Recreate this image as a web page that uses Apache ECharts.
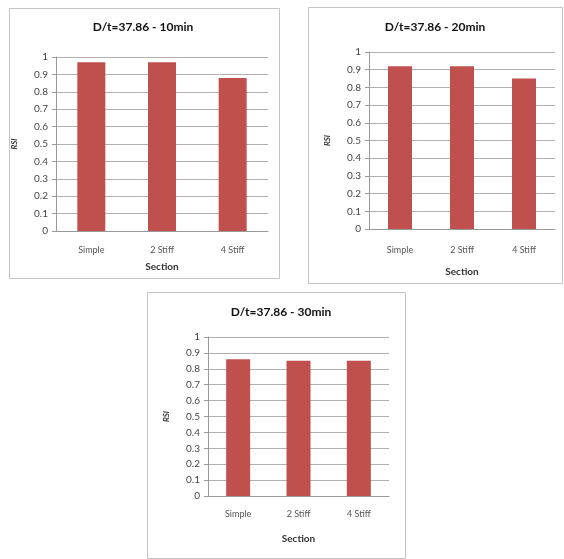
<!DOCTYPE html>
<html><head><meta charset="utf-8">
<script src="https://cdn.jsdelivr.net/npm/echarts@6/dist/echarts.min.js"></script>
<style>html,body{margin:0;padding:0;background:#fff}#c{width:564px;height:559px}</style>
</head><body><div id="c"></div>
<script>
var categories = ['Simple', '2 Stiff', '4 Stiff'];
var titles = ['D/t=37.86 - 10min', 'D/t=37.86 - 20min', 'D/t=37.86 - 30min'];
var values10 = [0.97, 0.97, 0.88];
var values20 = [0.92, 0.92, 0.85];
var values30 = [0.86, 0.85, 0.85];
var yTicks = [0, 0.1, 0.2, 0.3, 0.4, 0.5, 0.6, 0.7, 0.8, 0.9, 1];
var yName = 'RSI';
var xName = 'Section';

var seriesData = [values10, values20, values30];
var panels = [
  {box:[9,8,270,270], grid:{left:56, top:57, width:212, height:174}, titleX:143, titleY:21, barW:28, lblM:15, nameGap:31},
  {box:[308,7,254,276], grid:{left:369, top:52, width:186, height:177}, titleX:435, titleY:21, barW:24, lblM:17, nameGap:38},
  {box:[147,292,258,266], grid:{left:208, top:337, width:181, height:159}, titleX:281, titleY:306, barW:24, lblM:14, nameGap:38}
];
var font = 'Lato, "Open Sans", sans-serif';
var grids=[], xAxes=[], yAxes=[], series=[], titleArr=[], graphics=[];
panels.forEach(function(p,i){
  graphics.push({type:'rect', shape:{x:p.box[0]+0.5,y:p.box[1]+0.5,width:p.box[2],height:p.box[3]}, style:{fill:'#fff', stroke:'#c4c4c4', lineWidth:1}, z:-10});
  grids.push(p.grid);
  titleArr.push({text:titles[i], left:p.titleX, top:p.titleY, padding:0, textAlign:'center', textStyle:{fontFamily:font, fontSize:12, fontWeight:'bold', color:'#111'}});
  xAxes.push({type:'category', gridIndex:i, data:categories,
    axisLine:{lineStyle:{color:'#999'}}, axisTick:{show:false},
    axisLabel:{fontFamily:font, fontSize:9, color:'#555', margin:p.lblM},
    name:xName, nameLocation:'middle', nameGap:p.nameGap,
    nameTextStyle:{fontFamily:font, fontSize:10, fontWeight:'bold', color:'#333'}});
  yAxes.push({type:'value', gridIndex:i, min:yTicks[0], max:yTicks[yTicks.length-1], interval:0.1,
    axisLine:{show:true, lineStyle:{color:'#999'}}, axisTick:{show:true, length:4, lineStyle:{color:'#999'}},
    splitLine:{lineStyle:{color:'#b0b0b0'}},
    axisLabel:{fontFamily:font, fontSize:10, color:'#444', margin:8, formatter:function(v){return String(Math.round(v*10)/10);}},
    name:yName, nameLocation:'middle', nameGap:38, nameRotate:90,
    nameTextStyle:{fontFamily:font, fontSize:8, fontWeight:'bold', fontStyle:'italic', color:'#333'}});
  series.push({type:'bar', xAxisIndex:i, yAxisIndex:i, data:seriesData[i], barWidth:p.barW,
    itemStyle:{color:'#c0504d'}, silent:true});
});
var chart = echarts.init(document.getElementById('c'), null, {renderer:'canvas'});
chart.setOption({animation:false, backgroundColor:'#fff', title:titleArr, grid:grids, xAxis:xAxes, yAxis:yAxes, series:series, graphic:graphics});
</script></body></html>
